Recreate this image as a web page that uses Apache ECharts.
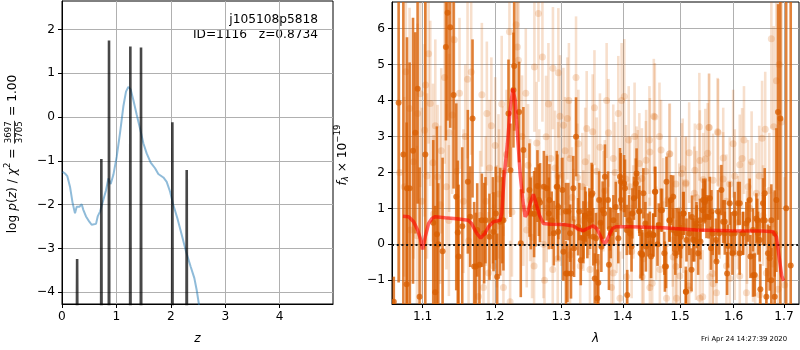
<!DOCTYPE html>
<html><head><meta charset="utf-8">
<script src="https://cdn.jsdelivr.net/npm/echarts@6/dist/echarts.min.js"></script>
<style>html,body{margin:0;padding:0;background:#fff}#c{width:800px;height:350px}</style>
</head><body><div id="c"></div>
<script>
// ---------------- data ----------------
const objName = 'j105108p5818';
const objInfo = 'ID=1116   z=0.8734';
const stamp = 'Fri Apr 24 14:27:39 2020';

const leftXTicks = [0, 1, 2, 3, 4];
const leftYTicks = [-4, -3, -2, -1, 0, 1, 2];
const rightXTicks = [1.1, 1.2, 1.3, 1.4, 1.5, 1.6, 1.7];
const rightYTicks = [-1, 0, 1, 2, 3, 4, 5, 6];

// p(z) curve (log)
const pzCurveZ = [0.01,0.055,0.098,0.147,0.196,0.239,0.27,0.319,0.362,0.392,0.441,0.502,0.545,0.625,0.656,0.699,0.76,0.809,0.852,0.895,0.944,1.005,1.066,1.127,1.176,1.219,1.262,1.311,1.373,1.434,1.495,1.556,1.63,1.71,1.77,1.863,1.924,1.985,2.046,2.12,2.2,2.279,2.365,2.432,2.475,2.518];
const pzCurveLog = [-1.25,-1.29,-1.35,-1.59,-1.97,-2.2,-2.05,-2.05,-1.99,-2.12,-2.27,-2.39,-2.46,-2.44,-2.27,-2.16,-1.89,-1.67,-1.40,-1.53,-1.32,-0.91,-0.37,0.24,0.58,0.69,0.63,0.39,0.05,-0.26,-0.60,-0.83,-1.04,-1.17,-1.30,-1.38,-1.48,-1.70,-2.01,-2.31,-2.69,-3.07,-3.42,-3.68,-3.95,-4.29];
// sharp chi2 peaks
const pzPeakZ = [0.278, 0.723, 0.864, 1.256, 1.452, 2.028, 2.292];
const pzPeakTop = [-3.24, -0.96, 1.75, 1.61, 1.59, -0.12, -1.21];

// spectrum, [lambda, flux, err] (dark = primary, light = secondary)
const darkSpec = [[1.0625,-1.60,0.7],[1.0687,3.94,5.0],[1.0748,2.50,5.0],[1.0790,-1.11,4.5],[1.0795,1.56,4.2],[1.0829,1.56,3.5],[1.0874,2.60,3.7],[1.0904,3.10,2.8],[1.0934,4.33,3.2],[1.0960,-1.46,3.6],[1.1036,2.50,5.0],[1.1142,0.60,2.3],[1.1169,-1.33,2.4],[1.1191,0.28,3.0],[1.1210,0.00,1.7],[1.1268,-0.19,2.6],[1.1313,5.49,2.6],[1.1336,6.44,3.0],[1.1372,6.04,2.8],[1.1418,4.15,2.6],[1.1455,1.32,2.6],[1.1476,0.33,2.0],[1.1487,-0.34,2.0],[1.1538,0.50,2.2],[1.1616,1.74,2.0],[1.1649,0.77,1.4],[1.1682,3.50,2.2],[1.1705,-0.62,1.8],[1.1729,-0.62,1.5],[1.1748,0.40,1.3],[1.1780,-0.57,1.3],[1.1814,0.67,1.3],[1.1847,0.31,1.4],[1.1866,0.67,1.2],[1.1923,0.21,1.2],[1.1972,0.67,1.2],[1.1981,0.35,1.1],[1.2014,0.86,1.3],[1.2034,-0.90,1.2],[1.2077,0.63,1.5],[1.2107,0.67,1.2],[1.2125,0.67,1.4],[1.2199,3.64,1.5],[1.2228,2.06,1.3],[1.2272,4.29,1.6],[1.2283,4.96,1.8],[1.2356,3.68,1.4],[1.2381,0.03,1.5],[1.2420,2.62,1.2],[1.2511,1.51,1.3],[1.2531,0.86,1.0],[1.2581,0.84,1.2],[1.2602,1.04,1.1],[1.2632,1.62,1.0],[1.2653,1.23,1.0],[1.2672,1.16,1.1],[1.2730,1.60,1.0],[1.2774,1.56,0.9],[1.2806,0.86,1.0],[1.2815,1.23,1.0],[1.2851,0.67,0.8],[1.2884,0.31,0.9],[1.2929,1.60,1.0],[1.2939,1.60,0.9],[1.2950,0.35,0.8],[1.2954,1.04,0.9],[1.3018,1.51,0.9],[1.3033,-0.21,0.8],[1.3071,0.91,0.8],[1.3074,-0.81,0.9],[1.3097,-0.81,0.8],[1.3111,0.91,0.8],[1.3139,0.31,0.8],[1.3153,-0.81,0.7],[1.3190,1.56,0.9],[1.3202,-0.11,0.8],[1.3233,2.99,1.1],[1.3266,0.49,0.8],[1.3286,0.91,0.8],[1.3309,-0.44,0.7],[1.3350,0.17,0.7],[1.3351,0.40,0.8],[1.3377,0.80,0.8],[1.3389,0.77,0.7],[1.3415,0.31,0.7],[1.3447,0.86,0.7],[1.3459,0.67,0.8],[1.3484,1.37,0.9],[1.3496,1.42,0.8],[1.3511,0.21,0.8],[1.3535,-0.95,0.7],[1.3555,0.17,0.7],[1.3578,-1.50,0.8],[1.3593,-1.07,0.8],[1.3606,1.23,0.8],[1.3631,0.60,0.7],[1.3643,-0.07,0.7],[1.3664,0.95,0.8],[1.3688,0.86,0.7],[1.3702,1.88,0.9],[1.3753,1.23,0.8],[1.3768,-0.57,0.7],[1.3785,0.43,0.6],[1.3798,0.31,0.7],[1.3842,0.67,0.7],[1.3882,1.04,0.7],[1.3924,0.17,0.7],[1.3952,1.88,0.8],[1.3966,1.74,0.8],[1.3969,1.23,0.7],[1.4022,1.69,0.8],[1.4036,1.56,0.8],[1.4067,0.40,0.7],[1.4075,-1.41,0.7],[1.4106,0.67,0.7],[1.4120,0.31,0.6],[1.4148,-0.06,0.7],[1.4162,0.86,0.7],[1.4189,1.28,0.6],[1.4221,1.69,0.7],[1.4234,1.97,0.7],[1.4280,0.91,0.6],[1.4282,0.93,0.7],[1.4303,-0.25,0.7],[1.4329,-0.30,0.7],[1.4331,-0.27,0.6],[1.4351,1.42,0.7],[1.4386,0.58,0.6],[1.4395,-0.06,0.7],[1.4428,0.26,0.6],[1.4464,0.31,0.6],[1.4485,-0.34,0.6],[1.4522,0.26,0.6],[1.4525,0.26,0.6],[1.4551,1.46,0.7],[1.4560,1.46,0.7],[1.4598,0.00,0.6],[1.4619,0.54,0.6],[1.4657,0.95,0.6],[1.4677,0.95,0.6],[1.4718,-0.25,0.6],[1.4728,-0.62,0.7],[1.4748,-0.62,0.6],[1.4757,1.74,0.7],[1.4807,0.67,0.6],[1.4816,0.67,0.6],[1.4837,1.23,0.7],[1.4876,1.32,0.6],[1.4878,0.40,0.6],[1.4914,-0.25,0.6],[1.4936,0.31,0.7],[1.4975,0.40,0.6],[1.4984,0.31,0.6],[1.5008,-0.06,0.6],[1.5017,0.21,0.6],[1.5056,0.86,0.6],[1.5066,0.86,0.6],[1.5104,-1.32,0.7],[1.5107,-1.32,0.6],[1.5116,0.12,0.6],[1.5168,0.30,0.6],[1.5208,-0.71,0.6],[1.5217,0.76,0.6],[1.5238,0.12,0.6],[1.5259,0.12,0.6],[1.5299,0.58,0.6],[1.5303,0.49,0.6],[1.5330,-0.25,0.6],[1.5364,0.67,0.6],[1.5373,0.08,0.5],[1.5414,0.95,0.6],[1.5423,1.23,0.6],[1.5453,1.18,0.6],[1.5463,1.23,0.6],[1.5484,0.77,0.6],[1.5526,0.76,0.6],[1.5547,1.28,0.6],[1.5569,-0.11,0.6],[1.5578,0.91,0.6],[1.5601,0.30,0.6],[1.5663,0.12,0.6],[1.5672,-0.48,0.6],[1.5700,0.91,0.6],[1.5722,0.31,0.6],[1.5766,1.51,0.7],[1.5798,0.63,0.6],[1.5828,0.63,0.6],[1.5830,0.31,0.6],[1.5874,-0.81,0.6],[1.5891,-0.05,0.6],[1.5925,1.14,0.6],[1.5954,0.30,0.6],[1.5976,-0.25,0.6],[1.6019,0.86,0.6],[1.6021,0.31,0.6],[1.6083,1.14,0.6],[1.6116,-0.25,0.6],[1.6118,1.14,0.6],[1.6180,0.30,0.6],[1.6183,0.31,0.6],[1.6245,0.58,0.6],[1.6280,0.67,0.6],[1.6311,1.23,0.6],[1.6326,-0.34,0.6],[1.6377,0.40,0.6],[1.6378,-0.86,0.6],[1.6410,-0.85,0.6],[1.6444,0.72,0.7],[1.6462,0.67,0.6],[1.6477,0.31,0.6],[1.6510,0.12,0.6],[1.6523,-1.25,0.7],[1.6575,1.14,0.7],[1.6576,0.67,0.7],[1.6609,0.67,0.7],[1.6610,1.42,0.7],[1.6643,-1.46,0.8],[1.6675,-0.25,0.8],[1.6710,-0.39,0.9],[1.6742,-1.00,0.9],[1.6743,0.67,1.0],[1.6811,-1.46,1.5],[1.6811,0.30,1.2],[1.6845,1.23,2.0],[1.6878,3.68,3.0],[1.6926,3.50,6.0],[1.7045,1.00,9.0],[1.7138,-0.59,9.0]];

const lightSpec = [[1.0700,2.00,3.0],[1.0760,1.60,2.5],[1.0780,4.80,2.8],[1.0829,3.78,2.8],[1.0838,0.40,2.6],[1.0880,2.30,2.7],[1.0925,0.24,2.5],[1.0934,3.64,2.5],[1.0969,4.19,2.6],[1.0990,1.20,2.6],[1.1027,3.17,2.4],[1.1040,4.43,2.5],[1.1058,1.90,2.3],[1.1080,5.30,2.5],[1.1102,3.92,2.3],[1.1138,2.27,2.2],[1.1147,0.84,2.2],[1.1170,3.30,2.4],[1.1200,1.88,2.0],[1.1236,1.10,2.2],[1.1250,2.60,2.3],[1.1295,4.64,2.4],[1.1320,1.60,2.3],[1.1354,0.66,2.1],[1.1358,3.10,2.2],[1.1400,3.60,2.2],[1.1427,5.69,2.5],[1.1464,2.03,2.0],[1.1500,4.20,2.1],[1.1556,1.20,2.0],[1.1580,3.00,2.0],[1.1612,4.59,2.2],[1.1626,0.10,1.9],[1.1663,4.79,2.3],[1.1766,-1.45,1.8],[1.1790,0.80,1.8],[1.1814,4.16,2.0],[1.1837,-1.20,1.8],[1.1870,1.20,1.8],[1.1885,3.64,2.0],[1.1909,-0.80,1.7],[1.1923,2.12,1.9],[1.1950,3.30,1.9],[1.1981,-0.60,1.7],[1.2005,2.75,1.9],[1.2029,0.50,1.7],[1.2053,1.82,1.8],[1.2060,1.40,1.8],[1.2100,3.90,1.9],[1.2125,2.03,1.8],[1.2125,-1.20,1.7],[1.2170,2.50,1.8],[1.2213,5.91,2.0],[1.2223,-1.60,1.7],[1.2250,0.90,1.8],[1.2312,6.11,2.1],[1.2331,5.49,2.0],[1.2346,5.12,1.9],[1.2400,3.00,1.7],[1.2420,1.00,1.6],[1.2456,4.20,1.8],[1.2470,0.40,1.6],[1.2490,2.20,1.7],[1.2521,1.23,1.7],[1.2550,0.20,1.7],[1.2581,-0.60,1.6],[1.2586,4.93,1.8],[1.2621,2.82,1.7],[1.2647,6.42,1.9],[1.2660,1.60,1.6],[1.2708,5.21,1.8],[1.2723,0.00,1.5],[1.2740,-1.00,1.6],[1.2764,2.99,1.7],[1.2774,1.00,1.5],[1.2800,3.90,1.7],[1.2836,2.39,1.6],[1.2867,-0.70,1.5],[1.2870,4.90,1.7],[1.2903,2.12,1.6],[1.2944,-0.40,1.5],[1.2950,1.90,1.5],[1.2954,4.77,1.8],[1.2980,3.56,1.7],[1.3000,0.90,1.5],[1.3033,3.31,1.6],[1.3033,0.48,1.5],[1.3060,2.60,1.5],[1.3096,3.50,1.7],[1.3120,4.00,1.6],[1.3138,2.39,1.6],[1.3138,-0.30,1.4],[1.3170,1.30,1.4],[1.3190,0.70,1.4],[1.3233,4.64,1.7],[1.3254,1.86,1.5],[1.3270,2.80,1.5],[1.3300,-0.60,1.4],[1.3334,1.60,1.5],[1.3350,0.66,1.4],[1.3380,2.30,1.5],[1.3404,3.22,1.6],[1.3440,1.10,1.4],[1.3457,-0.70,1.4],[1.3501,3.13,1.6],[1.3530,3.80,1.6],[1.3566,2.03,1.5],[1.3566,-0.50,1.4],[1.3620,2.70,1.5],[1.3675,1.20,1.4],[1.3700,1.50,1.4],[1.3730,4.00,1.6],[1.3760,3.10,1.5],[1.3810,-1.20,1.4],[1.3840,2.39,1.5],[1.3840,-0.80,1.4],[1.3870,2.00,1.4],[1.3896,0.50,1.3],[1.3924,3.64,1.6],[1.3952,-1.50,1.3],[1.3980,4.00,1.6],[1.4000,1.00,1.4],[1.4025,4.11,1.6],[1.4053,1.82,1.5],[1.4064,-0.90,1.3],[1.4100,2.90,1.5],[1.4120,1.60,1.4],[1.4150,-0.20,1.3],[1.4177,0.90,1.3],[1.4200,3.00,1.5],[1.4234,1.88,1.4],[1.4255,1.78,1.4],[1.4282,2.25,1.4],[1.4326,1.83,1.4],[1.4330,-0.90,1.3],[1.4354,-0.40,1.3],[1.4395,2.03,1.4],[1.4399,2.34,1.4],[1.4456,2.90,1.5],[1.4456,0.00,1.3],[1.4464,2.57,1.5],[1.4464,-1.20,1.3],[1.4505,-1.08,1.3],[1.4533,3.56,1.6],[1.4551,3.54,1.5],[1.4574,0.31,1.3],[1.4632,3.00,1.5],[1.4639,-0.70,1.3],[1.4660,2.62,1.4],[1.4698,1.10,1.3],[1.4757,-1.50,1.3],[1.4778,1.23,1.3],[1.4807,2.51,1.4],[1.4816,2.52,1.4],[1.4867,0.12,1.3],[1.4876,-0.35,1.3],[1.4924,1.68,1.3],[1.4926,-0.62,1.3],[1.4936,-1.50,1.3],[1.4986,0.95,1.3],[1.4996,-0.88,1.3],[1.5026,1.97,1.4],[1.5047,2.10,1.4],[1.5056,0.50,1.3],[1.5104,1.68,1.3],[1.5107,1.71,1.3],[1.5147,-1.15,1.3],[1.5165,2.55,1.4],[1.5168,-1.27,1.3],[1.5259,1.42,1.3],[1.5269,2.06,1.3],[1.5290,-0.25,1.3],[1.5299,1.30,1.3],[1.5352,3.27,1.5],[1.5361,2.33,1.4],[1.5361,-1.50,1.3],[1.5414,-1.46,1.3],[1.5423,1.80,1.3],[1.5463,2.37,1.4],[1.5507,2.53,1.4],[1.5528,3.25,1.5],[1.5537,3.25,1.5],[1.5547,-0.90,1.3],[1.5601,-0.81,1.3],[1.5609,1.78,1.3],[1.5609,-1.10,1.3],[1.5672,-1.35,1.3],[1.5694,3.13,1.5],[1.5703,3.10,1.5],[1.5734,0.90,1.3],[1.5798,1.82,1.3],[1.5800,2.40,1.4],[1.5860,1.20,1.3],[1.5861,-0.60,1.3],[1.5925,1.68,1.3],[1.5925,-0.95,1.3],[1.5990,2.80,1.5],[1.6021,1.90,1.3],[1.6021,-0.25,1.3],[1.6080,0.60,1.3],[1.6118,2.21,1.4],[1.6118,-0.88,1.3],[1.6164,2.39,1.4],[1.6200,2.90,1.5],[1.6248,-1.35,1.3],[1.6260,0.20,1.3],[1.6280,1.60,1.3],[1.6313,1.00,1.3],[1.6350,2.30,1.4],[1.6378,-0.30,1.3],[1.6420,-0.90,1.3],[1.6444,1.42,1.4],[1.6500,1.90,1.4],[1.6510,-1.40,1.4],[1.6557,2.95,1.6],[1.6576,0.80,1.4],[1.6620,3.20,1.6],[1.6643,-0.80,1.5],[1.6700,1.50,1.6],[1.6743,5.72,2.5],[1.6777,-0.55,2.0],[1.6791,3.27,2.8],[1.6845,4.55,3.0],[1.6878,-1.25,2.5],[1.6900,5.00,3.5],[1.6950,3.40,3.5],[1.7014,-1.13,3.0]];

const modelWave = [1.0743,1.0816,1.0882,1.0934,1.0969,1.1000,1.1035,1.1080,1.1124,1.1169,1.1302,1.1460,1.1621,1.1668,1.1739,1.1797,1.1860,1.1909,1.1981,1.2077,1.2101,1.2135,1.2184,1.2223,1.2262,1.2297,1.2331,1.2371,1.2411,1.2446,1.2480,1.2521,1.2571,1.2611,1.2662,1.2723,1.2826,1.3033,1.3190,1.3270,1.3350,1.3414,1.3511,1.3566,1.3620,1.3675,1.3719,1.3774,1.3829,1.3885,1.4120,1.4698,1.5299,1.5925,1.6576,1.6777,1.6845,1.6900,1.6953,1.6993];
const modelFlux = [0.78,0.77,0.63,0.40,0.17,-0.14,0.21,0.58,0.72,0.77,0.74,0.71,0.67,0.58,0.31,0.17,0.31,0.49,0.63,0.67,0.86,1.88,2.81,3.73,4.33,4.01,3.08,1.97,1.23,0.77,0.86,1.14,1.39,1.14,0.81,0.58,0.56,0.55,0.51,0.42,0.38,0.44,0.51,0.44,0.26,0.05,0.05,0.26,0.44,0.49,0.49,0.46,0.40,0.38,0.37,0.35,0.21,-0.34,-0.88,-1.02];

// ---------------- chart ----------------
const FONT = '"DejaVu Sans", sans-serif';
const FS = 12.2;
const L_XMIN = 0, L_XMAX = 4.98, L_YMIN = -4.27, L_YMAX = 2.65;
const R_XMIN = 1.0602, R_XMAX = 1.731, R_YMIN = -1.66, R_YMAX = 6.74;
const ORANGE = '217,95,2';
const minusFmt = v => (v < 0 ? '\u2212' : '') + Math.abs(v);

function axisCommon(ticks, fmt) {
  return {
    axisLine: {show: true, onZero: false, lineStyle: {color: '#000', width: 1}},
    axisTick: {show: true, length: 4, inside: false, lineStyle: {color: '#000', width: 1}, customValues: ticks},
    axisLabel: {color: '#000', fontSize: FS, fontFamily: FONT, margin: 7, customValues: ticks, formatter: fmt},
    splitLine: {show: true, lineStyle: {color: '#b0b0b0', width: 1}}
  };
}

function errRender(color, lw, r, yMin, yMax) {
  return function (params, api) {
    const x = api.value(0), y = api.value(1), e = api.value(2);
    const a = api.coord([x, Math.max(y - e, yMin)]);
    const b = api.coord([x, Math.min(y + e, yMax)]);
    const c = api.coord([x, y]);
    const ch = [{type: 'line', shape: {x1: a[0], y1: a[1], x2: b[0], y2: b[1]}, style: {stroke: color, lineWidth: lw}}];
    if (y >= yMin && y <= yMax) ch.push({type: 'circle', shape: {cx: c[0], cy: c[1], r: r}, style: {fill: color}});
    return {type: 'group', children: ch};
  };
}

const series = [];
series.push({
  type: 'line', xAxisIndex: 0, yAxisIndex: 0, showSymbol: false, silent: true, z: 3,
  data: pzCurveZ.map((z, i) => [z, pzCurveLog[i]]),
  lineStyle: {color: 'rgba(31,119,180,0.5)', width: 2}
});
pzPeakZ.forEach((z, i) => {
  series.push({
    type: 'line', xAxisIndex: 0, yAxisIndex: 0, showSymbol: false, silent: true, z: 4,
    data: [[z - 0.004, L_YMIN - 0.3], [z, pzPeakTop[i]], [z + 0.004, L_YMIN - 0.3]],
    lineStyle: {color: 'rgba(0,0,0,0.72)', width: 2.6, join: 'bevel'}
  });
});
series.push({
  type: 'custom', xAxisIndex: 1, yAxisIndex: 1, silent: true, clip: true, z: 2,
  data: lightSpec, renderItem: errRender('rgba(' + ORANGE + ',0.2)', 2.6, 3.5, R_YMIN - 1, R_YMAX + 1)
});
series.push({
  type: 'custom', xAxisIndex: 1, yAxisIndex: 1, silent: true, clip: true, z: 3,
  data: darkSpec, renderItem: errRender('rgba(' + ORANGE + ',0.78)', 2.6, 3, R_YMIN - 1, R_YMAX + 1)
});
series.push({
  type: 'line', xAxisIndex: 1, yAxisIndex: 1, showSymbol: false, silent: true, z: 5,
  data: modelWave.map((w, i) => [w, modelFlux[i]]),
  lineStyle: {color: 'rgba(255,0,0,0.6)', width: 3.5},
  markLine: {
    silent: true, symbol: 'none', label: {show: false},
    lineStyle: {color: '#111', width: 2, type: [2, 2.7]},
    data: [{yAxis: 0}]
  }
});

const mctx = document.createElement('canvas').getContext('2d');
function tw(s, font) { mctx.font = font; return mctx.measureText(s).width; }
const fN = FS + 'px ' + FONT, fI = 'italic ' + FS + 'px ' + FONT;
const fS = '8.6px ' + FONT, fSI = 'italic 8.6px ' + FONT;

function rotLabel(pieces, cx, cy) {
  let total = 0;
  pieces.forEach(p => { p.w = p.w != null ? p.w : tw(p.t, p.font); total += p.w; });
  let x = 0; const children = [];
  pieces.forEach(p => {
    if (p.frac) {
      children.push({type: 'line', shape: {x1: x + 1, y1: 1.5, x2: x + p.w - 1, y2: 1.5}, style: {stroke: '#000', lineWidth: 0.8}});
      children.push({type: 'text', x: x + p.w / 2, y: 0.6, style: {text: p.num, font: fS, fill: '#000', align: 'center', verticalAlign: 'bottom', textAlign: 'center', textVerticalAlign: 'bottom'}});
      children.push({type: 'text', x: x + p.w / 2, y: 2.6, style: {text: p.den, font: fS, fill: '#000', align: 'center', verticalAlign: 'top', textAlign: 'center', textVerticalAlign: 'top'}});
    } else {
      children.push({type: 'text', x: x, y: p.dy || 0, style: {text: p.t, font: p.font, fill: '#000', align: 'left', verticalAlign: 'middle', textAlign: 'left', textVerticalAlign: 'middle'}});
    }
    x += p.w;
  });
  return {type: 'group', x: cx, y: cy + total / 2, rotation: Math.PI / 2, silent: true, children: children};
}

const fracW = Math.max(tw('3697', fS), tw('3705', fS)) + 3;
const leftYLabel = rotLabel([
  {t: 'log ', font: fN}, {t: 'p', font: fI}, {t: '(', font: fN}, {t: 'z', font: fI}, {t: ') / ', font: fN},
  {t: '\u03c7', font: fI}, {t: '2', font: fS, dy: -5}, {t: ' = ', font: fN},
  {frac: true, num: '3697', den: '3705', w: fracW}, {t: ' = 1.00', font: fN}
], 13, 154);
const rightYLabel = rotLabel([
  {t: 'f', font: fI}, {t: '\u03bb', font: fSI, dy: 3}, {t: ' \u00d7 10', font: fN}, {t: '\u221219', font: fS, dy: -5}
], 343, 155);

const option = {
  animation: false,
  backgroundColor: '#fff',
  grid: [
    {left: 62, top: 1, width: 271, height: 303, show: true, borderColor: '#000', borderWidth: 1, backgroundColor: 'transparent'},
    {left: 392, top: 2, width: 407, height: 302, show: true, borderColor: '#000', borderWidth: 1, backgroundColor: 'transparent'}
  ],
  xAxis: [
    Object.assign(axisCommon(leftXTicks, minusFmt), {
      type: 'value', gridIndex: 0, min: L_XMIN, max: L_XMAX,
      name: 'z', nameLocation: 'middle', nameGap: 29,
      nameTextStyle: {fontSize: FS, fontFamily: FONT, color: '#000', fontStyle: 'italic'}
    }),
    Object.assign(axisCommon(rightXTicks, v => (+v).toFixed(1)), {
      type: 'log', logBase: 10, gridIndex: 1, min: R_XMIN, max: R_XMAX,
      name: '\u03bb', nameLocation: 'middle', nameGap: 29,
      nameTextStyle: {fontSize: FS, fontFamily: FONT, color: '#000', fontStyle: 'italic'}
    })
  ],
  yAxis: [
    Object.assign(axisCommon(leftYTicks, minusFmt), {type: 'value', gridIndex: 0, min: L_YMIN, max: L_YMAX}),
    Object.assign(axisCommon(rightYTicks, minusFmt), {type: 'value', gridIndex: 1, min: R_YMIN, max: R_YMAX})
  ],
  series: series,
  graphic: [
    leftYLabel, rightYLabel,
    {type: 'text', x: 318, y: 20, silent: true, style: {text: objName, font: fN, fill: '#000', align: 'right', verticalAlign: 'middle', textAlign: 'right', textVerticalAlign: 'middle'}},
    {type: 'text', x: 318, y: 34.5, silent: true, style: {text: objInfo, font: fN, fill: '#000', align: 'right', verticalAlign: 'middle', textAlign: 'right', textVerticalAlign: 'middle'}},
    {type: 'text', x: 701, y: 339.5, silent: true, style: {text: stamp, font: '6.9px ' + FONT, fill: '#000', align: 'left', verticalAlign: 'middle', textAlign: 'left', textVerticalAlign: 'middle'}}
  ]
};

const chart = echarts.init(document.getElementById('c'), null, {renderer: 'canvas'});
chart.setOption(option);
</script></body></html>
